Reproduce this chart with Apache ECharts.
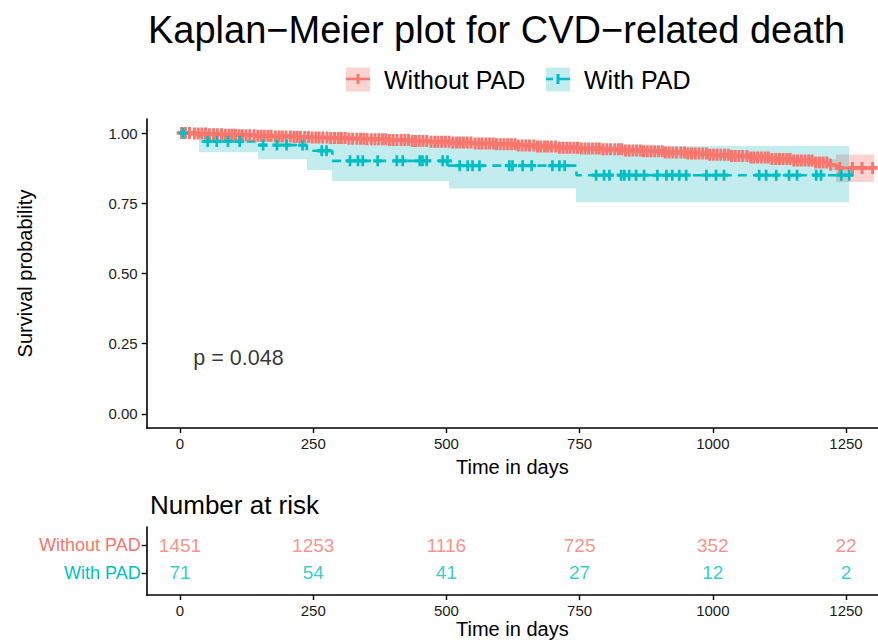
<!DOCTYPE html>
<html>
<head>
<meta charset="utf-8">
<script src="https://cdn.jsdelivr.net/npm/echarts@6/dist/echarts.min.js"></script>
<style>
  html, body { margin: 0; padding: 0; background: #fff; }
  #chart { width: 878px; height: 640px; }
</style>
</head>
<body>
<div id="chart"></div>
<script>
// ---- Kaplan–Meier estimate, patients without PAD (step start, survival, 95% CI) ----
const noPadTime  = [0, 25, 50, 80, 110, 140, 175, 210, 245, 280, 315, 350, 390, 430, 470, 510, 550, 590, 630, 670, 710, 750, 790, 830, 870, 910, 950, 990, 1030, 1070, 1110, 1150, 1190, 1220, 1232];
const noPadSurv  = [1.000, 0.998, 0.996, 0.994, 0.992, 0.990, 0.988, 0.986, 0.984, 0.982, 0.980, 0.978, 0.975, 0.972, 0.969, 0.966, 0.963, 0.960, 0.956, 0.952, 0.948, 0.945, 0.942, 0.938, 0.935, 0.931, 0.927, 0.923, 0.918, 0.913, 0.908, 0.902, 0.895, 0.887, 0.876];
const noPadLower = [1.000, 0.995, 0.992, 0.989, 0.986, 0.984, 0.981, 0.979, 0.977, 0.974, 0.972, 0.970, 0.966, 0.963, 0.960, 0.956, 0.953, 0.950, 0.946, 0.942, 0.937, 0.934, 0.930, 0.926, 0.923, 0.919, 0.914, 0.910, 0.905, 0.899, 0.893, 0.886, 0.878, 0.868, 0.826];
const noPadUpper = [1.000, 1.000, 1.000, 0.999, 0.998, 0.996, 0.995, 0.993, 0.991, 0.990, 0.988, 0.986, 0.984, 0.981, 0.978, 0.976, 0.973, 0.970, 0.966, 0.962, 0.959, 0.956, 0.954, 0.950, 0.947, 0.943, 0.940, 0.936, 0.931, 0.927, 0.923, 0.918, 0.912, 0.906, 0.924];
const noPadEnd = 1302;
const noPadCensor = [3, 10, 18, 27, 34, 41, 48, 55, 63, 70, 78, 85, 92, 98, 104, 111, 117, 124, 131, 139, 146, 152, 158, 165, 171, 179, 186, 192, 199, 207, 214, 220, 226, 234, 241, 248, 255, 261, 268, 276, 283, 290, 297, 303, 310, 317, 324, 332, 339, 345, 351, 359, 366, 373, 380, 386, 393, 400, 407, 415, 422, 429, 436, 442, 449, 456, 463, 471, 478, 484, 491, 498, 505, 512, 519, 525, 532, 539, 546, 554, 561, 567, 574, 581, 588, 594, 601, 608, 615, 622, 629, 635, 642, 649, 656, 664, 671, 677, 684, 690, 697, 705, 712, 719, 726, 732, 739, 746, 753, 760, 767, 774, 781, 787, 794, 801, 808, 816, 823, 829, 836, 843, 850, 857, 864, 870, 877, 884, 891, 898, 905, 911, 918, 925, 932, 940, 947, 953, 960, 967, 974, 981, 988, 994, 1001, 1008, 1015, 1022, 1029, 1035, 1042, 1049, 1056, 1064, 1071, 1077, 1084, 1091, 1098, 1104, 1111, 1118, 1125, 1132, 1139, 1145, 1152, 1159, 1166, 1173, 1180, 1186, 1193, 1200, 1207, 1214, 1221, 1238, 1262, 1280, 1300];

// ---- Kaplan–Meier estimate, patients with PAD ----
const padTime  = [0, 36, 146, 238, 286, 504, 744];
const padSurv  = [1.000, 0.970, 0.957, 0.937, 0.901, 0.884, 0.850];
const padLower = [1.000, 0.932, 0.907, 0.868, 0.829, 0.803, 0.754];
const padUpper = [1.000, 1.000, 1.000, 0.990, 0.970, 0.960, 0.954];
const padEnd = 1256;
const padCensor = [6, 52, 69, 90, 112, 156, 182, 200, 230, 266, 275, 319, 334, 343, 371, 407, 418, 450, 455, 463, 493, 502, 525, 540, 549, 562, 618, 624, 643, 660, 699, 712, 722, 781, 796, 806, 828, 834, 843, 856, 871, 896, 913, 924, 937, 950, 988, 1006, 1021, 1087, 1100, 1119, 1143, 1158, 1194, 1203, 1241, 1256];

// ---- Number at risk ----
const riskTimes = [0, 250, 500, 750, 1000, 1250];
const riskNoPad = [1451, 1253, 1116, 725, 352, 22];
const riskPad   = [71, 54, 41, 27, 12, 2];

// ---- Labels and ticks ----
const groupNames = ['Without PAD', 'With PAD'];
const xTicks = [0, 250, 500, 750, 1000, 1250];
const yTicks = [0, 0.25, 0.5, 0.75, 1];
const pValueText = 'p = 0.048';
const titleText = 'Kaplan\u2212Meier plot for CVD\u2212related death';

const RED = '#F8766D';
const TEAL = '#00BFC4';
const RED_FILL = 'rgba(248,118,109,0.32)';
const TEAL_FILL = 'rgba(0,175,185,0.24)';
const FONT = '"Liberation Sans", Arial, Helvetica, sans-serif';
const PLUS = 'path://M0,7H20V13H0Z M7,0H13V20H7Z';

// step curve points, closed off at the last follow-up time
function stepPoints(time, vals, end) {
  const pts = time.map((t, i) => [t, vals[i]]);
  pts.push([end, vals[vals.length - 1]]);
  return pts;
}
// confidence band segments: [start, stop, lower, upper]
function bandSegments(time, lower, upper, end) {
  return time.map((t, i) => [t, i + 1 < time.length ? time[i + 1] : end, lower[i], upper[i]]);
}
// survival value of the step function at time t
function survAt(time, surv, t) {
  let k = 0;
  for (let i = 0; i < time.length; i++) if (time[i] <= t) k = i;
  return surv[k];
}

function bandSeries(name, segs, fill) {
  return {
    name: name, type: 'custom', xAxisIndex: 0, yAxisIndex: 0, silent: true, z: 1,
    encode: { x: [0, 1], y: [2, 3] },
    data: segs,
    renderItem: (params, api) => {
      const a = api.coord([api.value(0), api.value(3)]);
      const b = api.coord([api.value(1), api.value(2)]);
      const x0 = Math.round(a[0]), x1 = Math.round(b[0]);
      return {
        type: 'rect',
        shape: { x: x0, y: a[1], width: x1 - x0, height: b[1] - a[1] },
        style: { fill: fill }
      };
    }
  };
}

const axisColor = '#000';
const labelColor = '#1a1a1a';
const intLabel = v => String(v);

const option = {
  animation: false,
  backgroundColor: '#fff',
  textStyle: { fontFamily: FONT },
  title: [
    {
      text: titleText, left: 148, top: 11, padding: 0,
      textStyle: { fontSize: 38, fontWeight: 'normal', color: '#000', fontFamily: FONT }
    },
    {
      text: 'Number at risk', left: 150, top: 492, padding: 0,
      textStyle: { fontSize: 26, fontWeight: 'normal', color: '#000', fontFamily: FONT }
    }
  ],
  legend: [
    {
      data: [{ name: groupNames[0], icon: 'rect', itemStyle: { color: RED_FILL } }],
      left: 346, top: 67, padding: 0, itemWidth: 24, itemHeight: 24, selectedMode: false,
      textStyle: { fontSize: 25, color: '#000', fontFamily: FONT, padding: [0, 0, 0, 9] }
    },
    {
      data: [{ name: groupNames[1], icon: 'rect', itemStyle: { color: TEAL_FILL } }],
      left: 546, top: 67, padding: 0, itemWidth: 24, itemHeight: 24, selectedMode: false,
      textStyle: { fontSize: 25, color: '#000', fontFamily: FONT, padding: [0, 0, 0, 9] }
    }
  ],
  graphic: [
    // line + censor mark drawn inside each legend key
    { type: 'line', shape: { x1: 346, y1: 79, x2: 370, y2: 79 }, style: { stroke: RED, lineWidth: 2.5 }, z: 100 },
    { type: 'rect', shape: { x: 356.5, y: 74, width: 3, height: 10 }, style: { fill: RED }, z: 100 },
    { type: 'line', shape: { x1: 546, y1: 79, x2: 553, y2: 79 }, style: { stroke: TEAL, lineWidth: 2.5 }, z: 100 },
    { type: 'line', shape: { x1: 557, y1: 79, x2: 570, y2: 79 }, style: { stroke: TEAL, lineWidth: 2.5 }, z: 100 },
    { type: 'rect', shape: { x: 556.5, y: 74, width: 3, height: 10 }, style: { fill: TEAL }, z: 100 }
  ],
  grid: [
    { left: 146.7, top: 119, width: 732, height: 309 },
    { left: 146.7, top: 527, width: 732, height: 68.6 }
  ],
  xAxis: [
    {
      gridIndex: 0, type: 'value', min: -62.5, max: 1310,
      axisLine: { show: true, onZero: false, lineStyle: { color: axisColor, width: 1.6 } },
      axisTick: { show: true, length: 5, customValues: xTicks, lineStyle: { color: axisColor, width: 1.4 } },
      axisLabel: { customValues: xTicks, formatter: intLabel, fontSize: 15, margin: 8, color: labelColor, fontFamily: FONT },
      splitLine: { show: false },
      name: 'Time in days', nameLocation: 'middle', nameGap: 29,
      nameTextStyle: { fontSize: 20, color: '#000', fontFamily: FONT }
    },
    {
      gridIndex: 1, type: 'value', min: -62.5, max: 1310,
      axisLine: { show: true, onZero: false, lineStyle: { color: axisColor, width: 1.6 } },
      axisTick: { show: true, length: 5, customValues: xTicks, lineStyle: { color: axisColor, width: 1.4 } },
      axisLabel: { customValues: xTicks, formatter: intLabel, fontSize: 15, margin: 8, color: labelColor, fontFamily: FONT },
      splitLine: { show: false },
      name: 'Time in days', nameLocation: 'middle', nameGap: 24,
      nameTextStyle: { fontSize: 20, color: '#000', fontFamily: FONT }
    }
  ],
  yAxis: [
    {
      gridIndex: 0, type: 'value', min: -0.05, max: 1.05,
      axisLine: { show: true, onZero: false, lineStyle: { color: axisColor, width: 1.6 } },
      axisTick: { show: true, length: 5, customValues: yTicks, lineStyle: { color: axisColor, width: 1.4 } },
      axisLabel: {
        customValues: yTicks, fontSize: 15, margin: 9, color: labelColor, fontFamily: FONT,
        formatter: v => v.toFixed(2)
      },
      splitLine: { show: false },
      name: 'Survival probability', nameLocation: 'middle', nameGap: 112, nameRotate: 90,
      nameTextStyle: { fontSize: 20, color: '#000', fontFamily: FONT }
    },
    {
      gridIndex: 1, type: 'value', min: 0.2, max: 2.65,
      axisLine: { show: true, onZero: false, lineStyle: { color: axisColor, width: 1.6 } },
      axisTick: { show: true, length: 5, customValues: [1, 2], lineStyle: { color: axisColor, width: 1.4 } },
      axisLabel: {
        customValues: [1, 2], margin: 6, fontFamily: FONT,
        formatter: v => (v === 2 ? '{a|' + groupNames[0] + '}' : '{b|' + groupNames[1] + '}'),
        rich: {
          a: { color: RED, fontSize: 18, fontFamily: FONT },
          b: { color: TEAL, fontSize: 18, fontFamily: FONT }
        }
      },
      splitLine: { show: false }
    }
  ],
  series: [
    bandSeries('noPadCI', bandSegments(noPadTime, noPadLower, noPadUpper, noPadEnd), RED_FILL),
    bandSeries('padCI', bandSegments(padTime, padLower, padUpper, padEnd), TEAL_FILL),
    {
      name: groupNames[0], type: 'line', step: 'end', xAxisIndex: 0, yAxisIndex: 0,
      symbol: 'none', color: RED, lineStyle: { color: RED, width: 3 },
      data: stepPoints(noPadTime, noPadSurv, noPadEnd), z: 3
    },
    {
      name: groupNames[1], type: 'line', step: 'end', xAxisIndex: 0, yAxisIndex: 0,
      symbol: 'none', color: TEAL, lineStyle: { color: TEAL, width: 2.6, type: [9, 6] },
      data: stepPoints(padTime, padSurv, padEnd), z: 3
    },
    {
      name: 'noPadCensor', type: 'scatter', xAxisIndex: 0, yAxisIndex: 0, silent: true,
      symbol: PLUS, symbolSize: [10, 12], itemStyle: { color: RED, opacity: 1 },
      data: noPadCensor.map(t => [t, survAt(noPadTime, noPadSurv, t)]), z: 4
    },
    {
      name: 'padCensor', type: 'scatter', xAxisIndex: 0, yAxisIndex: 0, silent: true,
      symbol: PLUS, symbolSize: [9, 11], itemStyle: { color: TEAL, opacity: 1 },
      data: padCensor.map(t => [t, survAt(padTime, padSurv, t)]), z: 5
    },
    {
      name: 'pValue', type: 'scatter', xAxisIndex: 0, yAxisIndex: 0, silent: true,
      symbolSize: 0, data: [[25, 0.2]],
      label: {
        show: true, position: 'right', distance: 0, formatter: pValueText,
        fontSize: 21.5, color: '#000', fontFamily: FONT
      }
    },
    {
      name: 'riskNoPad', type: 'scatter', xAxisIndex: 1, yAxisIndex: 1, silent: true,
      symbolSize: 0, data: riskTimes.map((t, i) => [t, 2, riskNoPad[i]]),
      label: {
        show: true, position: 'inside', formatter: p => String(p.value[2]),
        fontSize: 19, color: RED, fontFamily: FONT
      }
    },
    {
      name: 'riskPad', type: 'scatter', xAxisIndex: 1, yAxisIndex: 1, silent: true,
      symbolSize: 0, data: riskTimes.map((t, i) => [t, 1, riskPad[i]]),
      label: {
        show: true, position: 'inside', formatter: p => String(p.value[2]),
        fontSize: 19, color: TEAL, fontFamily: FONT
      }
    }
  ]
};

const chart = echarts.init(document.getElementById('chart'), null, { renderer: 'svg' });
chart.setOption(option);
</script>
</body>
</html>
